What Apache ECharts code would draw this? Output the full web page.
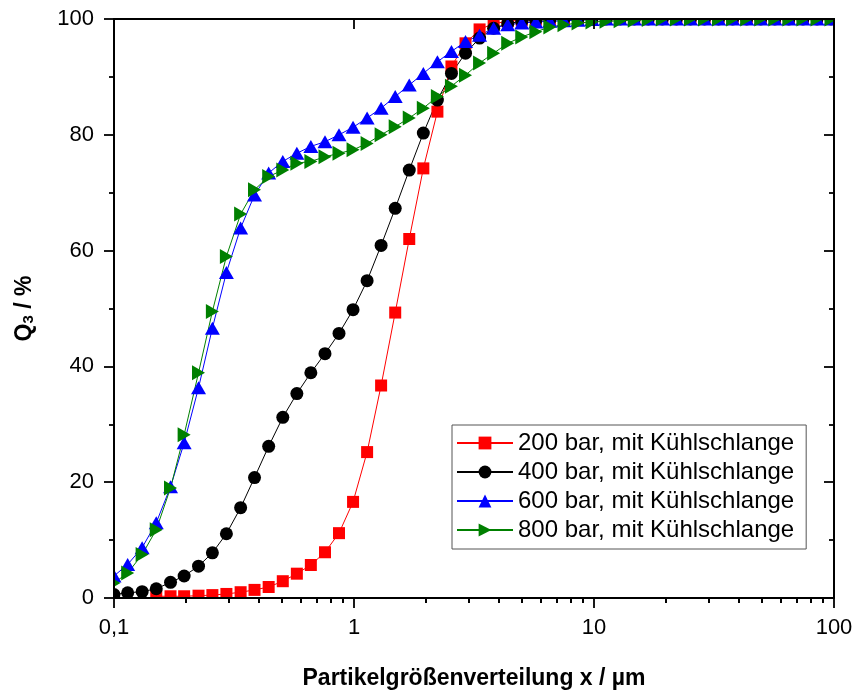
<!DOCTYPE html>
<html>
<head>
<meta charset="utf-8">
<title>Partikelgrößenverteilung Q3</title>
<script src="https://cdn.jsdelivr.net/npm/echarts@6/dist/echarts.min.js"></script>
<style>
  html, body { margin: 0; padding: 0; background: #fff; }
  #chart { width: 856px; height: 695px; }
</style>
</head>
<body>
<div id="chart"></div>
<script>
// Particle size classes x / µm (logarithmic channels)
const sizes = [
  0.100, 0.114, 0.131, 0.150, 0.172, 0.196, 0.225, 0.257, 0.294, 0.337,
  0.385, 0.441, 0.505, 0.578, 0.661, 0.757, 0.866, 0.991, 1.134, 1.297,
  1.485, 1.699, 1.945, 2.226, 2.547, 2.915, 3.336, 3.818, 4.370, 5.001,
  5.724, 6.550, 7.497, 8.580, 9.811, 11.23, 12.85, 14.71, 16.83, 19.26,
  22.04, 25.23, 28.87, 33.04, 37.82, 43.28, 49.53, 56.69, 64.87, 74.24,
  84.96, 97.18
];

// Cumulative volume distribution Q3 / %
const q3_200bar = [
  null, null, null, 0.3, 0.3, 0.3, 0.4, 0.5, 0.7, 1.0,
  1.4, 1.9, 2.9, 4.2, 5.7, 7.9, 11.2, 16.6, 25.2, 36.7,
  49.3, 62.0, 74.2, 84.0, 91.8, 95.8, 98.2, 99.2, 99.6, 99.8,
  99.9, 100, 100, 100, 100, 100, 100, 100, 100, 100,
  100, 100, 100, 100, 100, 100, 100, 100, 100, 100,
  100, 100
];
const q3_400bar = [
  0.6, 0.9, 1.1, 1.6, 2.7, 3.8, 5.5, 7.8, 11.1, 15.6,
  20.8, 26.2, 31.2, 35.3, 38.9, 42.2, 45.7, 49.8, 54.8, 60.9,
  67.3, 73.9, 80.3, 86.0, 90.6, 94.1, 96.7, 98.4, 99.2, 99.6,
  99.8, 99.9, 100, 100, 100, 100, 100, 100, 100, 100,
  100, 100, 100, 100, 100, 100, 100, 100, 100, 100,
  100, 100
];
const q3_600bar = [
  3.8, 5.8, 8.7, 13.0, 19.2, 26.8, 36.3, 46.6, 56.2, 63.9,
  69.6, 73.4, 75.4, 76.8, 78.0, 78.8, 80.0, 81.3, 82.9, 84.6,
  86.6, 88.6, 90.6, 92.6, 94.4, 96.1, 97.2, 98.4, 99.0, 99.3,
  99.5, 99.6, 99.7, 99.8, 99.9, 100, 100, 100, 100, 100,
  100, 100, 100, 100, 100, 100, 100, 100, 100, 100,
  100, 100
];
const q3_800bar = [
  2.6, 4.3, 7.5, 11.8, 19.0, 28.2, 38.9, 49.5, 59.0, 66.3,
  70.5, 72.8, 73.9, 75.1, 75.4, 76.2, 76.8, 77.4, 78.5, 80.0,
  81.4, 82.9, 84.6, 86.6, 88.4, 90.3, 92.4, 94.1, 95.8, 96.9,
  97.8, 98.6, 99.0, 99.3, 99.5, 99.6, 99.7, 99.8, 99.9, 100,
  100, 100, 100, 100, 100, 100, 100, 100, 100, 100,
  100, 100
];

const seriesNames = [
  '200 bar, mit Kühlschlange',
  '400 bar, mit Kühlschlange',
  '600 bar, mit Kühlschlange',
  '800 bar, mit Kühlschlange'
];

// Axis ticks
const xMajorTicks = [0.1, 1, 10, 100];
const xMajorLabels = ['0,1', '1', '10', '100'];
const xMinorTicks = [
  0.2, 0.3, 0.4, 0.5, 0.6, 0.7, 0.8, 0.9,
  2, 3, 4, 5, 6, 7, 8, 9,
  20, 30, 40, 50, 60, 70, 80, 90
];
const yTickStep = 20;

const FONT = '"Liberation Sans", Arial, Helvetica, sans-serif';
const G = { left: 114, right: 22, top: 19, bottom: 97 };
const W = 856, H = 695;

const pairs = (vals) => sizes.map((x, i) => [x, vals[i]]);

const frameLine = { show: true, onZero: false, lineStyle: { color: '#000', width: 2 } };
const tickStyle = { color: '#000', width: 1.8 };

function logAxis(extra) {
  return Object.assign({
    type: 'log', logBase: 10, min: 0.1, max: 100, gridIndex: 0, z: 10,
    splitLine: { show: false }, minorSplitLine: { show: false },
    axisLabel: { show: false }, axisLine: { show: false }
  }, extra);
}

const option = {
  animation: false,
  backgroundColor: '#fff',
  textStyle: { fontFamily: FONT },
  grid: { left: G.left, right: G.right, top: G.top, bottom: G.bottom, containLabel: false },
  xAxis: [
    logAxis({
      position: 'bottom',
      axisLine: frameLine,
      axisTick: { show: true, length: 10, lineStyle: tickStyle, customValues: xMajorTicks },
      axisLabel: {
        show: true, customValues: xMajorTicks, fontSize: 22, color: '#000', margin: 19,
        fontFamily: FONT,
        formatter: (v) => {
          const k = xMajorTicks.findIndex(t => Math.abs(Math.log10(t) - Math.log10(v)) < 1e-6);
          return k >= 0 ? xMajorLabels[k] : '';
        }
      },
      name: 'Partikelgrößenverteilung x / µm',
      nameLocation: 'middle', nameGap: 69,
      nameTextStyle: { fontSize: 23, fontWeight: 'bold', color: '#000', fontFamily: FONT }
    }),
    logAxis({
      position: 'bottom',
      axisTick: { show: true, length: 5, lineStyle: tickStyle, customValues: xMinorTicks }
    }),
    logAxis({
      position: 'top',
      axisLine: frameLine,
      axisTick: { show: true, inside: true, length: 10, lineStyle: tickStyle, customValues: xMajorTicks }
    }),
    logAxis({
      position: 'top',
      axisTick: { show: true, inside: true, length: 5, lineStyle: tickStyle, customValues: xMinorTicks }
    })
  ],
  yAxis: [
    {
      type: 'value', min: 0, max: 100, interval: yTickStep, position: 'left', z: 10,
      axisLine: frameLine,
      axisTick: { show: true, length: 10, lineStyle: tickStyle },
      minorTick: { show: true, splitNumber: 2, length: 5, lineStyle: tickStyle },
      splitLine: { show: false }, minorSplitLine: { show: false },
      axisLabel: { fontSize: 22, color: '#000', margin: 20, fontFamily: FONT },
      name: '{q|Q}{s|3}{q| / %}',
      nameLocation: 'middle', nameGap: 78, nameRotate: 90,
      nameTextStyle: {
        color: '#000', fontFamily: FONT, fontWeight: 'bold', fontSize: 23,
        rich: {
          q: { fontSize: 23, fontWeight: 'bold', fontFamily: FONT, color: '#000' },
          s: { fontSize: 15, fontWeight: 'bold', fontFamily: FONT, color: '#000',
               verticalAlign: 'bottom', padding: [6, 0, 0, 0] }
        }
      }
    },
    {
      type: 'value', min: 0, max: 100, interval: yTickStep, position: 'right', z: 10,
      axisLine: frameLine,
      axisTick: { show: true, inside: true, length: 10, lineStyle: tickStyle },
      minorTick: { show: true, splitNumber: 2, length: 5, lineStyle: tickStyle },
      splitLine: { show: false }, minorSplitLine: { show: false },
      axisLabel: { show: false }
    }
  ],
  legend: {
    orient: 'vertical',
    left: 452, top: 425,
    padding: [6, 12, 7, 4],
    itemGap: 5,
    itemWidth: 56, itemHeight: 16,
    borderColor: '#555', borderWidth: 1,
    backgroundColor: '#fff',
    textStyle: { fontSize: 24, color: '#000', fontFamily: FONT },
    data: seriesNames
  },
  // white masks around the frame so markers are cut at the plot edges
  graphic: [
    { type: 'rect', z: 8, silent: true, shape: { x: 96, y: 0, width: W - 96, height: G.top - 1 }, style: { fill: '#fff' } },
    { type: 'rect', z: 8, silent: true, shape: { x: 96, y: 0, width: G.left - 97, height: H - G.bottom + 18 }, style: { fill: '#fff' } },
    { type: 'rect', z: 8, silent: true, shape: { x: 96, y: H - G.bottom + 1, width: W - 96, height: 16 }, style: { fill: '#fff' } },
    { type: 'rect', z: 8, silent: true, shape: { x: W - G.right + 1, y: 0, width: G.right, height: H - G.bottom + 18 }, style: { fill: '#fff' } }
  ],
  series: [
    {
      name: seriesNames[0], type: 'line', data: pairs(q3_200bar),
      xAxisIndex: 0, yAxisIndex: 0,
      symbol: 'rect', symbolSize: 12,
      itemStyle: { color: '#ff0000' }, lineStyle: { color: '#ff0000', width: 1 }
    },
    {
      name: seriesNames[1], type: 'line', data: pairs(q3_400bar),
      xAxisIndex: 0, yAxisIndex: 0,
      symbol: 'circle', symbolSize: 13,
      itemStyle: { color: '#000000' }, lineStyle: { color: '#000000', width: 1 }
    },
    {
      name: seriesNames[2], type: 'line', data: pairs(q3_600bar),
      xAxisIndex: 0, yAxisIndex: 0,
      symbol: 'triangle', symbolSize: [15, 13],
      itemStyle: { color: '#0000ff' }, lineStyle: { color: '#0000ff', width: 1 }
    },
    {
      name: seriesNames[3], type: 'line', data: pairs(q3_800bar),
      xAxisIndex: 0, yAxisIndex: 0,
      symbol: 'triangle', symbolSize: [15, 13], symbolRotate: -90,
      itemStyle: { color: '#008000' }, lineStyle: { color: '#008000', width: 1 }
    }
  ]
};

const chart = echarts.init(document.getElementById('chart'), null, { renderer: 'canvas' });
chart.setOption(option);
</script>
</body>
</html>
